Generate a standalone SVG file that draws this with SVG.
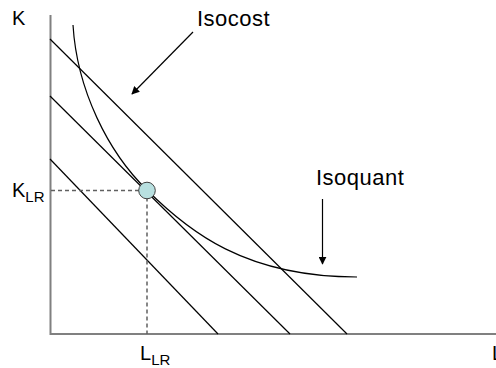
<svg xmlns="http://www.w3.org/2000/svg" width="496" height="368" viewBox="0 0 496 368">
<defs>
<style>
text{font-family:"Liberation Sans",Arial,sans-serif;fill:#000}
.lbl{font-size:20px}
.big{font-size:22px;letter-spacing:0.5px}
.sub{font-size:15px}
.axis{stroke:#808080;stroke-width:2;fill:none}
.iso{stroke:#000;stroke-width:1.2;fill:none}
.dash{stroke:#606060;stroke-width:1.5;stroke-dasharray:4 3;fill:none}
.ptr{stroke:#000;stroke-width:1.2;fill:none;marker-end:url(#ah)}
</style>
<marker id="ah" viewBox="0 0 10 10" refX="9" refY="5" markerWidth="8" markerHeight="8" markerUnits="userSpaceOnUse" orient="auto">
<path d="M0,0 L10,5 L0,10 z" fill="#000"/>
</marker>
</defs>
<g id="axes">
<line class="axis" x1="50.5" y1="15" x2="50.5" y2="335"/>
<line class="axis" x1="50" y1="334" x2="496" y2="334"/>
</g>
<g id="connectors">
<line class="iso" x1="50" y1="39" x2="347" y2="334"/>
<line class="iso" x1="50" y1="96" x2="290" y2="334"/>
<line class="iso" x1="50" y1="159" x2="218" y2="334"/>
<path class="iso" d="M73,25 C77,90 108,152 147,190 C188,231 245,277 357,277"/>
<line class="dash" x1="51" y1="190.5" x2="147" y2="190.5"/>
<line class="dash" x1="147" y1="190.5" x2="147" y2="334"/>
<line class="ptr" x1="193" y1="32" x2="132" y2="94"/>
<line class="ptr" x1="322.5" y1="199" x2="322.5" y2="264"/>
</g>
<g id="point">
<circle cx="147" cy="190.5" r="8.3" fill="#b8e0e0" stroke="#404040" stroke-width="1"/>
</g>
<g id="labels">
<text class="lbl" x="12" y="25">K</text>
<text class="big" x="197" y="26">Isocost</text>
<text class="big" x="316" y="185">Isoquant</text>
<text class="lbl" x="12" y="197">K<tspan class="sub" dy="5">LR</tspan></text>
<text class="lbl" x="140" y="360">L<tspan class="sub" dy="5">LR</tspan></text>
<text class="lbl" x="492" y="360">L</text>
</g>
</svg>
